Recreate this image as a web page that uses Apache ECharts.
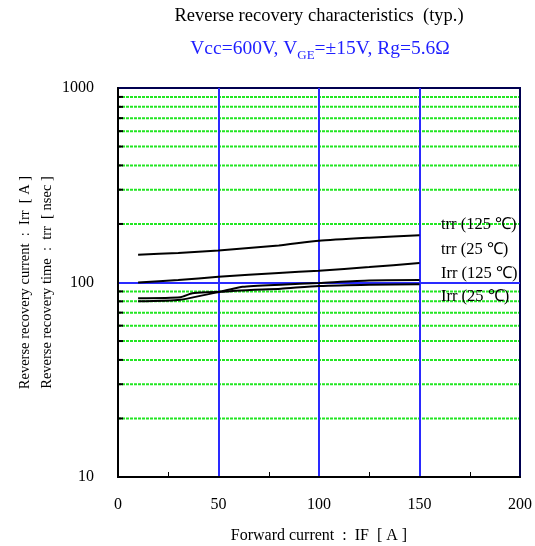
<!DOCTYPE html>
<html>
<head>
<meta charset="utf-8">
<script src="https://cdn.jsdelivr.net/npm/echarts@6/dist/echarts.min.js"></script>
<style>html,body{margin:0;padding:0;background:#fff;}#c{width:535px;height:546px;}</style>
</head>
<body>
<div id="c"></div>
<script>
// Data
const trr125 = [[10,139],[30,142],[50,146],[80,155],[100,164],[125,170],[150,175]];
const trr25  = [[10,100],[30,103],[50,107],[80,112],[100,115],[125,120],[150,126]];
const irr125 = [[10,83],[31,84],[37,88],[51,90],[62,95],[81,97.5],[100,99.5],[125,102.5],[150,103]];
const irr25  = [[10,80],[31,81.5],[51,89.5],[81,93],[100,96],[125,97.5],[150,98]];
const minorGridValues = [20,30,40,50,60,70,80,90,200,300,400,500,600,700,800,900];
const xTicks = {min:0, max:200, interval:50};
const yRange = {min:10, max:1000};
const seriesLabels = ['trr (125 ℃)','trr (25 ℃)','Irr (125 ℃)','Irr (25 ℃)'];

const serif = '"Liberation Serif","Times New Roman",serif';
const chart = echarts.init(document.getElementById('c'));

function lineSeries(name, data){
  return {name:name, type:'line', data:data, showSymbol:false, symbol:'none', smooth:0.2,
    lineStyle:{color:'#000', width:2}, z:5, silent:true};
}

chart.setOption({
  animation:false,
  grid:{left:118, right:15, top:88, bottom:69, containLabel:false, outerBoundsMode:'none',
    show:true, borderColor:'#000050', borderWidth:2, backgroundColor:'transparent'},
  xAxis:{type:'value', min:xTicks.min, max:xTicks.max, interval:xTicks.interval,
    name:'Forward current  :  IF  [ A ]', nameLocation:'middle', nameGap:51, nameMoveOverlap:false,
    nameTextStyle:{fontFamily:serif, fontSize:16, color:'#000'},
    axisLine:{show:true, lineStyle:{color:'#000', width:2}},
    axisTick:{show:false},
    minorTick:{show:true, splitNumber:2, length:-5, lineStyle:{color:'#000', width:1}},
    axisLabel:{fontFamily:serif, fontSize:16, color:'#000', margin:20},
    splitLine:{show:true, showMinLine:false, showMaxLine:false, lineStyle:{color:'#2a2aff', width:2}}
  },
  yAxis:{type:'log', logBase:10, min:yRange.min, max:yRange.max,
    name:'Reverse recovery current  :  Irr  [ A ]\nReverse recovery time  :  trr  [ nsec ]',
    nameLocation:'middle', nameGap:60, nameRotate:90, nameMoveOverlap:false,
    nameTextStyle:{fontFamily:serif, fontSize:14.5, color:'#000', lineHeight:22},
    axisLine:{show:true, lineStyle:{color:'#000', width:2}},
    axisTick:{show:false},
    minorTick:{show:false},
    axisLabel:{fontFamily:serif, fontSize:16, color:'#000', margin:24, formatter:function(v){return String(Math.round(v));}},
    splitLine:{show:true, showMinLine:false, showMaxLine:false, lineStyle:{color:'#2a2aff', width:2}}
  },
  graphic:[
    {type:'text', x:319, y:16, style:{text:'Reverse recovery characteristics  (typ.)', fontFamily:serif, fontSize:18.5, fill:'#000', align:'center', verticalAlign:'middle'}},
    {type:'text', x:320, y:49, style:{
      text:'{m|Vcc=600V, V}{s|GE}{m|=±15V, Rg=5.6Ω}', align:'center', verticalAlign:'middle',
      rich:{m:{fontFamily:serif, fontSize:19.5, fill:'#1f1fff', lineHeight:26, verticalAlign:'middle'},
            s:{fontFamily:serif, fontSize:13, fill:'#1f1fff', lineHeight:13, verticalAlign:'bottom'}}}},
    {type:'text', x:441, y:225, style:{text:seriesLabels[0], fontFamily:serif, fontSize:16.5, fill:'#000', verticalAlign:'middle'}},
    {type:'text', x:441, y:250, style:{text:seriesLabels[1], fontFamily:serif, fontSize:16.5, fill:'#000', verticalAlign:'middle'}},
    {type:'text', x:441, y:274, style:{text:seriesLabels[2], fontFamily:serif, fontSize:16.5, fill:'#000', verticalAlign:'middle'}},
    {type:'text', x:441, y:297, style:{text:seriesLabels[3], fontFamily:serif, fontSize:16.5, fill:'#000', verticalAlign:'middle'}}
  ],
  series:[
    {type:'custom', z:-1, silent:true, data:minorGridValues.map(v=>[v]),
      encode:{y:0},
      renderItem:function(params, api){
        const v = api.value(0);
        const p1 = api.coord([xTicks.min, v]);
        const p2 = api.coord([xTicks.max, v]);
        return {type:'group', children:[
          {type:'line', shape:{x1:p1[0], y1:p1[1], x2:p2[0], y2:p2[1]}, style:{stroke:'#22e622', lineWidth:2, lineDash:[3,1]}},
          {type:'line', shape:{x1:p1[0], y1:p1[1], x2:p1[0]+5, y2:p1[1]}, style:{stroke:'#000', lineWidth:2}}
        ]};
      }},
    lineSeries(seriesLabels[0], trr125),
    lineSeries(seriesLabels[1], trr25),
    lineSeries(seriesLabels[2], irr125),
    lineSeries(seriesLabels[3], irr25)
  ]
});
</script>
</body>
</html>
